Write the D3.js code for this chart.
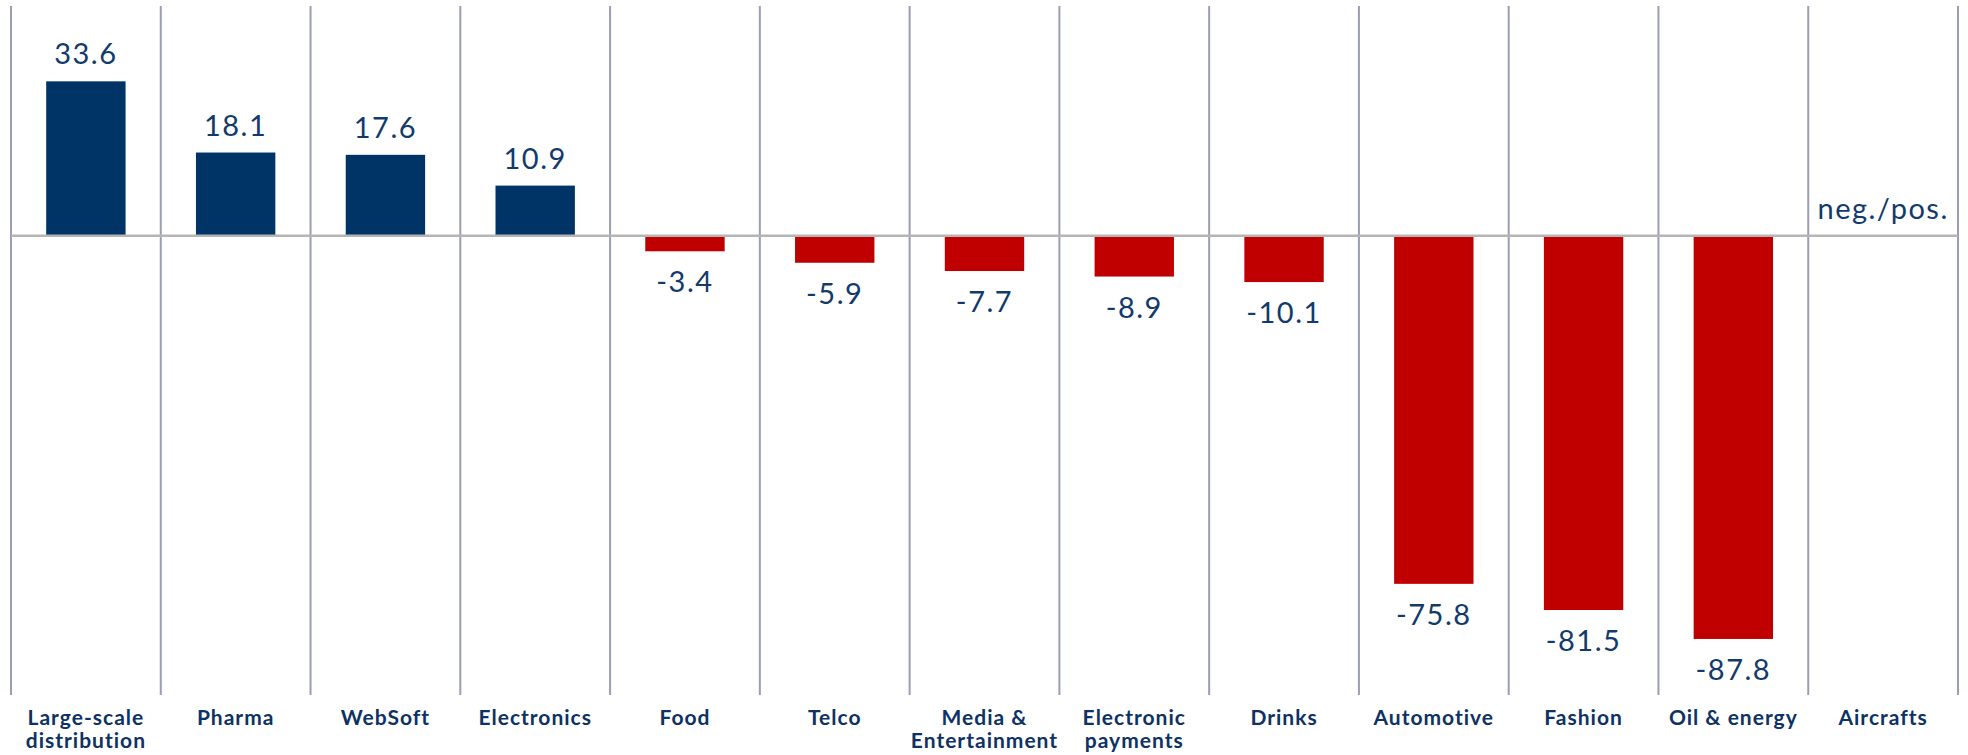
<!DOCTYPE html>
<html lang="en">
<head>
    <meta charset="UTF-8">
    <title>Sector performance</title>
    <script src="https://d3js.org/d3.v7.min.js"></script>
    <style>
        body {
            margin: 0;
            background: #fff;
            font-family: "Century Gothic", Lato, sans-serif;
        }
        .value {
            font-size: 29px;
            letter-spacing: 1.5px;
            fill: #123a6b;
        }
        .cat {
            font-size: 21px;
            font-weight: bold;
            letter-spacing: 1px;
            fill: #0d3263;
        }
    </style>
</head>
<body>
    <div id="chart"></div>

    <script>
        // categories (label lines)
        const categories = [
            ["Large-scale", "distribution"],
            ["Pharma"],
            ["WebSoft"],
            ["Electronics"],
            ["Food"],
            ["Telco"],
            ["Media &", "Entertainment"],
            ["Electronic", "payments"],
            ["Drinks"],
            ["Automotive"],
            ["Fashion"],
            ["Oil & energy"],
            ["Aircrafts"]
        ];
        // values, null = no bar
        const values = [33.6, 18.1, 17.6, 10.9, -3.4, -5.9, -7.7, -8.9, -10.1, -75.8, -81.5, -87.8, null];
        const valueLabels = ["33.6", "18.1", "17.6", "10.9", "-3.4", "-5.9", "-7.7", "-8.9", "-10.1", "-75.8", "-81.5", "-87.8", "neg./pos."];
        const yDomain = [-100, 50];

        const width = 1968, height = 755;
        const svg = d3.select("#chart").append("svg")
            .attr("width", width)
            .attr("height", height);

        const keys = categories.map((c, i) => i);
        const x = d3.scaleBand()
            .domain(keys)
            .range([11, 1958])
            .padding(0);

        const y = d3.scaleLinear()
            .domain(yDomain)
            .range([695, 6]);

        const bw = x.bandwidth();
        const barW = bw * 0.53;

        // vertical separators
        const sepX = keys.map(k => x(k)).concat([x.range()[1]]);
        svg.append("g")
            .selectAll("line")
            .data(sepX)
            .enter().append("line")
            .attr("x1", d => d)
            .attr("x2", d => d)
            .attr("y1", y(yDomain[1]))
            .attr("y2", y(yDomain[0]))
            .attr("stroke", "#9a9eb0")
            .attr("stroke-width", 2);

        // bars
        svg.append("g")
            .selectAll("rect")
            .data(keys.filter(k => values[k] !== null))
            .enter().append("rect")
            .attr("x", k => x(k) + (bw - barW) / 2)
            .attr("width", barW)
            .attr("y", k => y(Math.max(0, values[k])))
            .attr("height", k => Math.abs(y(values[k]) - y(0)))
            .attr("fill", k => values[k] >= 0 ? "#003366" : "#c00000");

        // zero line
        svg.append("line")
            .attr("x1", x.range()[0])
            .attr("x2", x.range()[1])
            .attr("y1", y(0))
            .attr("y2", y(0))
            .attr("stroke", "#b5b5b5")
            .attr("stroke-width", 2.5);

        // value labels
        svg.append("g")
            .selectAll("text")
            .data(keys)
            .enter().append("text")
            .attr("class", "value")
            .attr("text-anchor", "middle")
            .attr("x", k => x(k) + bw / 2)
            .attr("y", k => {
                const v = values[k] === null ? 0 : values[k];
                return v >= 0 ? y(v) - 17 : y(v) + 41;
            })
            .text(k => valueLabels[k]);

        // category labels
        const cat = svg.append("g")
            .selectAll("text")
            .data(keys)
            .enter().append("text")
            .attr("class", "cat")
            .attr("text-anchor", "middle")
            .attr("x", k => x(k) + bw / 2)
            .attr("y", 725);

        cat.selectAll("tspan")
            .data(k => categories[k].map(t => ({ k, t })))
            .enter().append("tspan")
            .attr("x", d => x(d.k) + bw / 2)
            .attr("dy", (d, i) => i === 0 ? 0 : 23)
            .text(d => d.t);
    </script>
</body>
</html>
